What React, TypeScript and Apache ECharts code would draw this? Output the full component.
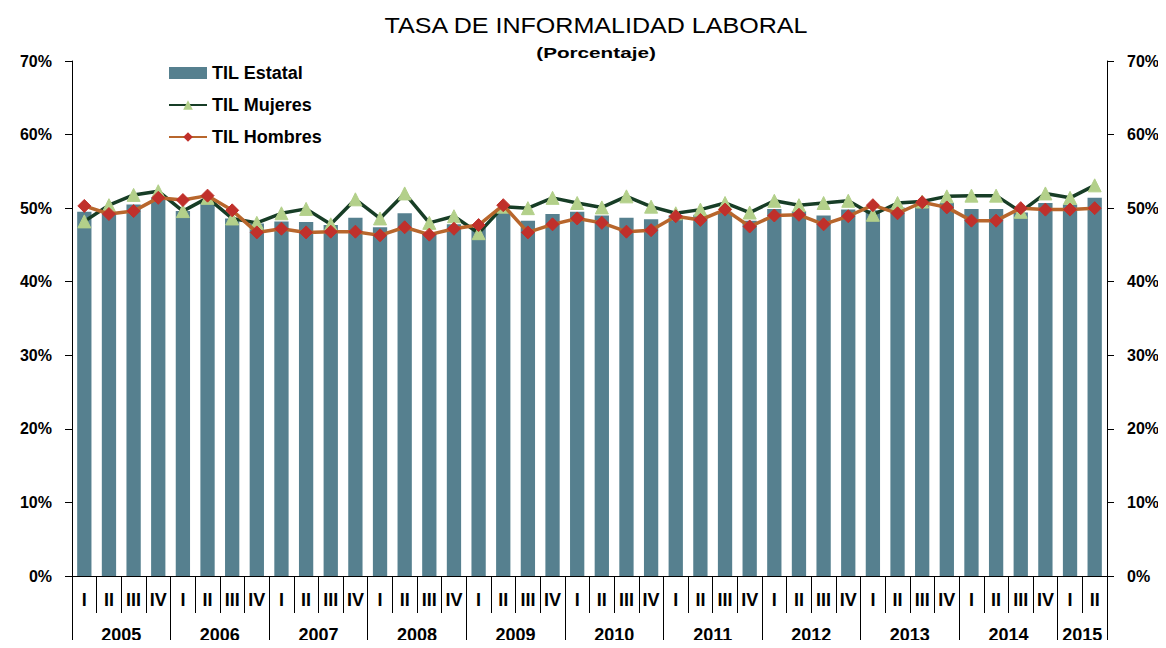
import React, { useEffect, useRef } from "react";
import * as echarts from "echarts";

const quarters = [
  "I", "II", "III", "IV", "I", "II", "III", "IV", "I", "II", "III", "IV",
  "I", "II", "III", "IV", "I", "II", "III", "IV", "I", "II", "III", "IV",
  "I", "II", "III", "IV", "I", "II", "III", "IV", "I", "II", "III", "IV",
  "I", "II", "III", "IV", "I", "II",
];
const years = ["2005", "2006", "2007", "2008", "2009", "2010", "2011", "2012", "2013", "2014", "2015"];
const yearCenters = [2, 6, 10, 14, 18, 22, 26, 30, 34, 38, 41];
const yearBounds = [0, 4, 8, 12, 16, 20, 24, 28, 32, 36, 40, 42];

const tilEstatal = [
  49.5, 49.3, 50.5, 51.4, 49.6, 50.7, 48.6, 47.9, 48.2, 48.1, 47.7, 48.7,
  47.4, 49.3, 46.5, 47.8, 47.3, 49.5, 48.3, 49.2, 49.5, 49.0, 48.7, 48.5,
  49.0, 49.1, 49.5, 48.3, 49.9, 49.6, 49.0, 49.8, 49.7, 50.1, 50.4, 50.7,
  49.9, 49.9, 49.4, 50.7, 50.5, 51.4,
];
const tilMujeres = [
  48.2, 50.4, 51.8, 52.3, 49.6, 51.4, 48.6, 48.0, 49.3, 49.9, 47.8, 51.2,
  48.6, 52.0, 48.0, 48.9, 46.6, 50.2, 50.0, 51.4, 50.7, 50.1, 51.6, 50.2,
  49.3, 49.8, 50.7, 49.4, 51.0, 50.4, 50.7, 51.0, 49.1, 50.7, 50.9, 51.6,
  51.7, 51.7, 49.5, 52.0, 51.4, 53.1,
];
const tilHombres = [
  50.3, 49.2, 49.6, 51.4, 51.1, 51.7, 49.7, 46.7, 47.2, 46.7, 46.8, 46.8,
  46.3, 47.4, 46.4, 47.2, 47.7, 50.4, 46.7, 47.8, 48.6, 48.0, 46.8, 47.0,
  48.9, 48.4, 49.8, 47.5, 49.0, 49.1, 47.8, 48.9, 50.4, 49.3, 50.8, 50.1,
  48.3, 48.3, 50.0, 49.8, 49.8, 50.0,
];

const FONT = "'Liberation Sans', Arial, sans-serif";

export default function App() {
  const ref = useRef<HTMLDivElement>(null);
  useEffect(() => {
    if (!ref.current) return;
    const chart = echarts.init(ref.current, undefined, { renderer: "svg" });
    const yAxisCommon = {
      type: "value" as const,
      min: 0,
      max: 70,
      interval: 10,
      splitLine: { show: false },
      axisLine: { show: true, lineStyle: { color: "#000", width: 1 } },
      axisTick: { show: true, length: 7, lineStyle: { color: "#000" } },
      axisLabel: {
        formatter: "{value}%",
        color: "#000",
        fontFamily: FONT,
        fontWeight: "bold" as const,
        fontSize: 16,
        margin: 20,
      },
    };
    chart.setOption({
      animation: false,
      backgroundColor: "#fff",
      textStyle: { fontFamily: FONT },
      graphic: [
        {
          type: "text",
          x: 596,
          y: 26,
          scaleX: 1.14,
          style: {
            text: "TASA DE INFORMALIDAD LABORAL",
            fontFamily: FONT,
            fontSize: 22,
            fill: "#000",
            align: "center",
            verticalAlign: "middle",
          },
        },
        {
          type: "text",
          x: 596,
          y: 53,
          scaleX: 1.38,
          style: {
            text: "(Porcentaje)",
            fontFamily: FONT,
            fontSize: 15,
            fontWeight: "bold",
            fill: "#000",
            align: "center",
            verticalAlign: "middle",
          },
        },
      ],
      legend: {
        orient: "vertical",
        left: 168,
        top: 64,
        padding: 0,
        itemGap: 14,
        itemWidth: 38,
        itemHeight: 12,
        textStyle: { fontFamily: FONT, fontSize: 18, fontWeight: "bold", color: "#000" },
        data: [
          { name: "TIL Estatal", icon: "rect" },
          { name: "TIL Mujeres" },
          { name: "TIL Hombres" },
        ],
      },
      grid: { left: 72, right: 59, top: 61, bottom: 72, containLabel: false },
      xAxis: [
        {
          type: "category",
          data: quarters,
          position: "bottom",
          axisLine: { show: true, lineStyle: { color: "#000" } },
          axisTick: { show: true, interval: 0, length: 37, lineStyle: { color: "#000" } },
          axisLabel: {
            interval: 0,
            color: "#000",
            fontFamily: FONT,
            fontWeight: "bold",
            fontSize: 18,
            margin: 15,
          },
        },
        {
          type: "value",
          min: 0,
          max: 42,
          position: "bottom",
          splitLine: { show: false },
          axisLine: { show: false },
          axisTick: {
            show: true,
            customValues: yearBounds,
            length: 72,
            lineStyle: { color: "#000" },
          },
          axisLabel: {
            customValues: yearCenters,
            formatter: (v: number) => years[yearCenters.indexOf(v)] ?? "",
            color: "#000",
            fontFamily: FONT,
            fontWeight: "bold",
            fontSize: 18,
            margin: 50,
          },
        },
      ],
      yAxis: [
        { ...yAxisCommon, position: "left" },
        { ...yAxisCommon, position: "right" },
      ],
      series: [
        {
          name: "TIL Estatal",
          type: "bar",
          data: tilEstatal,
          barCategoryGap: "42%",
          itemStyle: { color: "#56808f" },
          z: 1,
        },
        {
          name: "TIL Mujeres",
          type: "line",
          data: tilMujeres,
          symbol: "triangle",
          symbolSize: 13,
          lineStyle: { color: "#173d26", width: 3.5 },
          itemStyle: { color: "#b3d08a", borderColor: "#b3d08a" },
          z: 3,
        },
        {
          name: "TIL Hombres",
          type: "line",
          data: tilHombres,
          symbol: "diamond",
          symbolSize: 13,
          lineStyle: { color: "#b8662c", width: 3.5 },
          itemStyle: { color: "#c0302b", borderColor: "#c0302b" },
          z: 4,
        },
      ],
    });
    return () => chart.dispose();
  }, []);
  return <div ref={ref} style={{ width: 1166, height: 648, margin: -8 }} />;
}
